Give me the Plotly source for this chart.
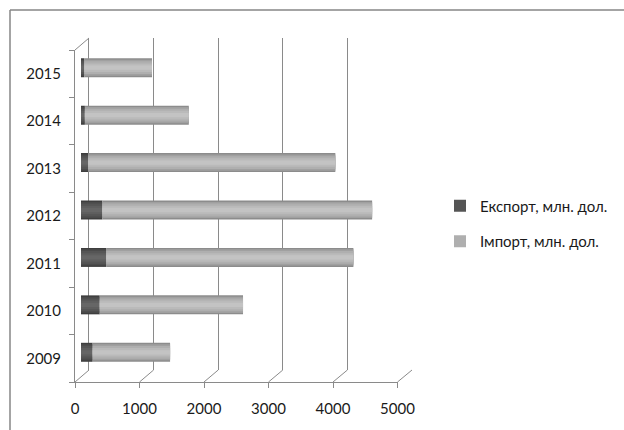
import plotly.graph_objects as go

# ---- data ----
years = ["2009", "2010", "2011", "2012", "2013", "2014", "2015"]
export_vals = [180, 290, 390, 330, 110, 60, 50]
import_vals = [1200, 2220, 3830, 4180, 3830, 1610, 1050]
x_ticks = [0, 1000, 2000, 3000, 4000, 5000]
series_names = ["Експорт, млн. дол.", "Імпорт, млн. дол."]

W, H = 624, 430
FONT = "Lato"
GRID = "#8a8a8a"

# pixel geometry of the pseudo-3D box (front plane, back plane, middle plane)
fx0, fx1, fy_top, fy_bot = 75.0, 397.5, 50.0, 382.0
bx0, bx1, by_top, by_bot = 89.0, 412.0, 38.0, 370.0
mx0, mx1, my_top, my_bot = (fx0 + bx0) / 2 - 1, (fx1 + bx1) / 2 - 1, (fy_top + by_top) / 2, (fy_bot + by_bot) / 2
XMAX = x_ticks[-1]

def px(v):
    return v / W

def py(v):
    return 1 - v / H

fig = go.Figure()

# invisible helper traces so that the back wall and the front axes are drawn
fig.add_trace(go.Scatter(x=[0, XMAX], y=[0, 1], xaxis="x", yaxis="y",
                         mode="markers", marker=dict(opacity=0), showlegend=False,
                         hoverinfo="skip"))
fig.add_trace(go.Scatter(x=[0] * len(years), y=years, xaxis="x2", yaxis="y2",
                         mode="markers", marker=dict(opacity=0), showlegend=False,
                         hoverinfo="skip"))

# cylinder-like shading with stacked layers of narrower bars
layers = [
    (0.40, "#3e3e3e", "#8c8c8c"),
    (0.34, "#4b4b4b", "#a0a0a0"),
    (0.27, "#555555", "#afafaf"),
    (0.18, "#5e5e5e", "#bababa"),
    (0.09, "#666666", "#c3c3c3"),
]
for i, (w, ce, ci) in enumerate(layers):
    fig.add_trace(go.Bar(y=years, x=export_vals, base=[0] * len(years), orientation="h",
                         width=w, marker=dict(color=ce, line=dict(width=0)),
                         name=series_names[0], legendgroup="e",
                         showlegend=(i == 2), xaxis="x3", yaxis="y3"))
for i, (w, ce, ci) in enumerate(layers):
    fig.add_trace(go.Bar(y=years, x=import_vals, base=export_vals, orientation="h",
                         width=w, marker=dict(color=ci, line=dict(width=0)),
                         name=series_names[1], legendgroup="i",
                         showlegend=(i == 2), xaxis="x3", yaxis="y3"))

# diagonal floor lines and wall edges
shapes = []
for v in x_ticks:
    xf = fx0 + (fx1 - fx0) * v / XMAX
    xb = bx0 + (bx1 - bx0) * v / XMAX
    shapes.append(dict(type="line", xref="paper", yref="paper",
                       x0=px(xf), y0=py(fy_bot), x1=px(xb), y1=py(by_bot),
                       line=dict(color=GRID, width=1), layer="below"))
shapes.append(dict(type="line", xref="paper", yref="paper",
                   x0=px(fx0), y0=py(fy_top), x1=px(bx0), y1=py(by_top),
                   line=dict(color=GRID, width=1), layer="below"))
# outer frame (partly cropped)
shapes.append(dict(type="line", xref="paper", yref="paper",
                   x0=px(10), y0=py(10), x1=1.01, y1=py(10),
                   line=dict(color="#868686", width=1.5)))
shapes.append(dict(type="line", xref="paper", yref="paper",
                   x0=px(10), y0=py(10), x1=px(10), y1=-0.01,
                   line=dict(color="#868686", width=1.5)))

fig.update_layout(
    template="none",
    width=W, height=H, autosize=False,
    margin=dict(l=0, r=0, t=0, b=0, pad=0),
    paper_bgcolor="white", plot_bgcolor="rgba(0,0,0,0)",
    font=dict(family=FONT, size=15, color="#1a1a1a"),
    barmode="overlay",
    shapes=shapes,
    showlegend=True,
    legend=dict(x=px(440), xanchor="left", y=py(223.5), yanchor="middle",
                traceorder="grouped", tracegroupgap=13,
                font=dict(family=FONT, size=15, color="#1a1a1a"),
                bgcolor="rgba(0,0,0,0)"),
    # back wall
    xaxis=dict(domain=[px(bx0), px(bx1)], range=[0, XMAX], anchor="y",
               showgrid=True, gridcolor=GRID, gridwidth=1, dtick=1000, tick0=0,
               showticklabels=False, ticks="", zeroline=False, showline=False,
               automargin=False, fixedrange=True),
    yaxis=dict(domain=[py(by_bot), py(by_top)], anchor="x", range=[0, 1],
               showgrid=False, showticklabels=False, zeroline=False, ticks="",
               showline=True, linecolor=GRID, linewidth=1, automargin=False,
               fixedrange=True),
    # front axes (ticks and labels)
    xaxis2=dict(domain=[px(fx0), px(fx1)], range=[0, XMAX], anchor="y2",
                tickvals=x_ticks, ticktext=[str(v) for v in x_ticks],
                ticks="outside", ticklen=5, tickcolor=GRID,
                showgrid=False, zeroline=False, showline=True,
                linecolor=GRID, linewidth=1, ticklabelstandoff=8,
                automargin=False, fixedrange=True),
    yaxis2=dict(domain=[py(fy_bot), py(fy_top)], anchor="x2", type="category",
                categoryorder="array", categoryarray=years, range=[-0.5, 6.5],
                tickson="boundaries", ticks="outside", ticklen=5, tickcolor=GRID,
                showgrid=False, zeroline=False, showline=True,
                linecolor=GRID, linewidth=1, ticklabelstandoff=10,
                automargin=False, fixedrange=True),
    # middle plane with the bars
    xaxis3=dict(domain=[px(mx0), px(mx1)], range=[0, XMAX], anchor="y3",
                visible=False, automargin=False, fixedrange=True),
    yaxis3=dict(domain=[py(my_bot), py(my_top)], anchor="x3", type="category",
                categoryorder="array", categoryarray=years, range=[-0.5, 6.5],
                visible=False, automargin=False, fixedrange=True),
)

fig.write_html("out.html", config={"displayModeBar": False},
               post_script="document.body.style.margin='0';")
